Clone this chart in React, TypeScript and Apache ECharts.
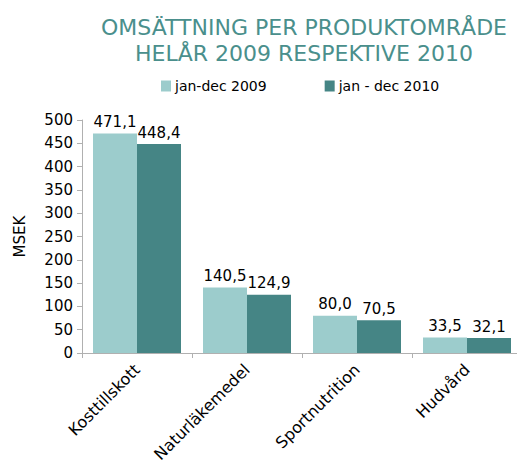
import React, { useEffect, useRef } from "react";
import * as echarts from "echarts";

const categories = ["Kosttillskott", "Naturläkemedel", "Sportnutrition", "Hudvård"];
const series2009 = [471.1, 140.5, 80.0, 33.5];
const series2010 = [448.4, 124.9, 70.5, 32.1];
const seriesNames = ["jan-dec 2009", "jan - dec 2010"];
const titleLines = ["OMSÄTTNING PER PRODUKTOMRÅDE", "HELÅR 2009 RESPEKTIVE 2010"];
const yAxisName = "MSEK";

const FONT = "DejaVu Sans, Verdana, sans-serif";

export default function App() {
  const ref = useRef<HTMLDivElement>(null);
  useEffect(() => {
    if (!ref.current) return;
    const chart = echarts.init(ref.current, null, { renderer: "svg" });
    const fmt = (p: any) => Number(p.value).toFixed(1).replace(".", ",");
    const labelCfg = {
      show: true,
      position: "top",
      formatter: fmt,
      fontFamily: FONT,
      fontSize: 15,
      color: "#000",
      distance: 4,
    };
    chart.setOption({
      animation: false,
      backgroundColor: "#ffffff",
      textStyle: { fontFamily: FONT },
      title: {
        text: titleLines.join("\n"),
        left: 299,
        textAlign: "center",
        top: 9,
        textStyle: {
          fontFamily: FONT,
          fontSize: 22,
          fontWeight: "normal",
          color: "#4a8f8c",
          lineHeight: 26,
        },
      },
      legend: {
        top: 74,
        left: 156,
        itemWidth: 10,
        itemHeight: 11,
        itemGap: 58,
        icon: "rect",
        textStyle: { fontFamily: FONT, fontSize: 14, color: "#000", padding: [0, 0, 0, -1] },
        data: seriesNames,
      },
      grid: {
        left: 82,
        top: 120,
        width: 440,
        height: 233,
        containLabel: false,
        outerBoundsMode: "none",
      },
      xAxis: {
        type: "category",
        data: categories,
        axisLine: { lineStyle: { color: "#b0b0b0" } },
        axisTick: { show: true, length: 5, lineStyle: { color: "#b0b0b0" }, alignWithLabel: false },
        axisLabel: {
          rotate: 45,
          fontFamily: FONT,
          fontSize: 16,
          color: "#000",
          margin: 14,
          interval: 0,
        },
      },
      yAxis: {
        type: "value",
        min: 0,
        max: 500,
        interval: 50,
        name: yAxisName,
        nameLocation: "middle",
        nameRotate: 90,
        nameGap: 55,
        nameTextStyle: { fontFamily: FONT, fontSize: 15, color: "#000" },
        axisLine: { show: true, lineStyle: { color: "#b0b0b0" } },
        axisTick: { show: true, length: 5, lineStyle: { color: "#b0b0b0" } },
        splitLine: { show: false },
        axisLabel: { fontFamily: FONT, fontSize: 15, color: "#000", margin: 9 },
      },
      series: [
        {
          name: seriesNames[0],
          type: "bar",
          data: series2009,
          barGap: "0%",
          barCategoryGap: "20%",
          itemStyle: { color: "#9ccccc" },
          label: labelCfg,
        },
        {
          name: seriesNames[1],
          type: "bar",
          data: series2010,
          barGap: "0%",
          barCategoryGap: "20%",
          itemStyle: { color: "#458585" },
          label: labelCfg,
        },
      ],
    });
    return () => chart.dispose();
  }, []);
  return (
    <div
      ref={ref}
      style={{ position: "absolute", left: 0, top: 0, width: 517, height: 460 }}
    />
  );
}
